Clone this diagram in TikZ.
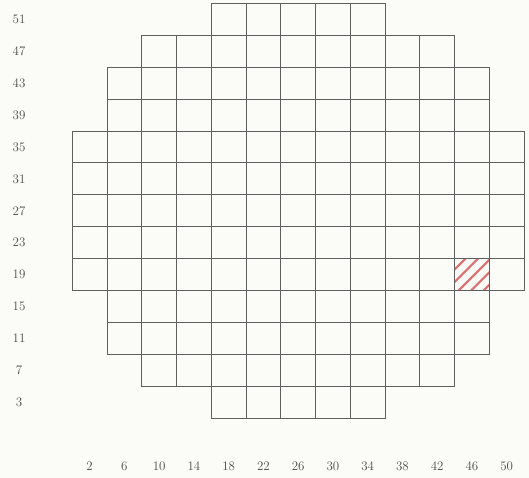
\documentclass[tikz,border=0pt]{standalone}
\definecolor{bgcol}{RGB}{251,251,247}
\definecolor{gridgray}{RGB}{95,95,95}
\definecolor{labgray}{RGB}{75,75,75}
\definecolor{hatchred}{RGB}{222,112,112}
\begin{document}
\begin{tikzpicture}[x=1pt,y=-1pt,
  cell/.style={draw=gridgray, line width=0.9pt},
  hatchline/.style={draw=hatchred, line width=2pt},
  lab/.style={text=labgray, font=\fontsize{13}{15}\selectfont, inner sep=0pt}]
\fill[bgcol] (0,0) rectangle (529,478);
\useasboundingbox (0,0) rectangle (529,478);
\def\xo{72.3}\def\yo{3.3}\def\dx{34.75}\def\dy{31.92}
% hatched cell (column 46, row 19)
\begin{scope}
  \clip ({\xo+11*\dx},{\yo+8*\dy}) rectangle ++(\dx,\dy);
  \foreach \k in {-4,...,4} {
    \draw[hatchline] ({\xo+11*\dx+\k*12.5+4},{\yo+9*\dy}) -- ++(40,-40);
  }
\end{scope}
% grid cells
\foreach \r/\a/\b in {0/4/8, 1/2/10, 2/1/11, 3/1/11, 4/0/12, 5/0/12, 6/0/12, 7/0/12, 8/0/12, 9/1/11, 10/1/11, 11/2/10, 12/4/8} {
  \foreach \c in {\a,...,\b} {
    \draw[cell] ({\xo+\c*\dx},{\yo+\r*\dy}) rectangle ++(\dx,\dy);
  }
}
% row labels
\foreach \r in {0,...,12} {
  \pgfmathtruncatemacro{\v}{51-4*\r}
  \node[lab] (row\r) at (19,{\yo+(\r+0.5)*\dy}) {\v};
}
% column labels
\foreach \c in {0,...,12} {
  \pgfmathtruncatemacro{\v}{2+4*\c}
  \node[lab] (col\c) at ({\xo+(\c+0.5)*\dx},466) {\v};
}
\end{tikzpicture}
\end{document}
